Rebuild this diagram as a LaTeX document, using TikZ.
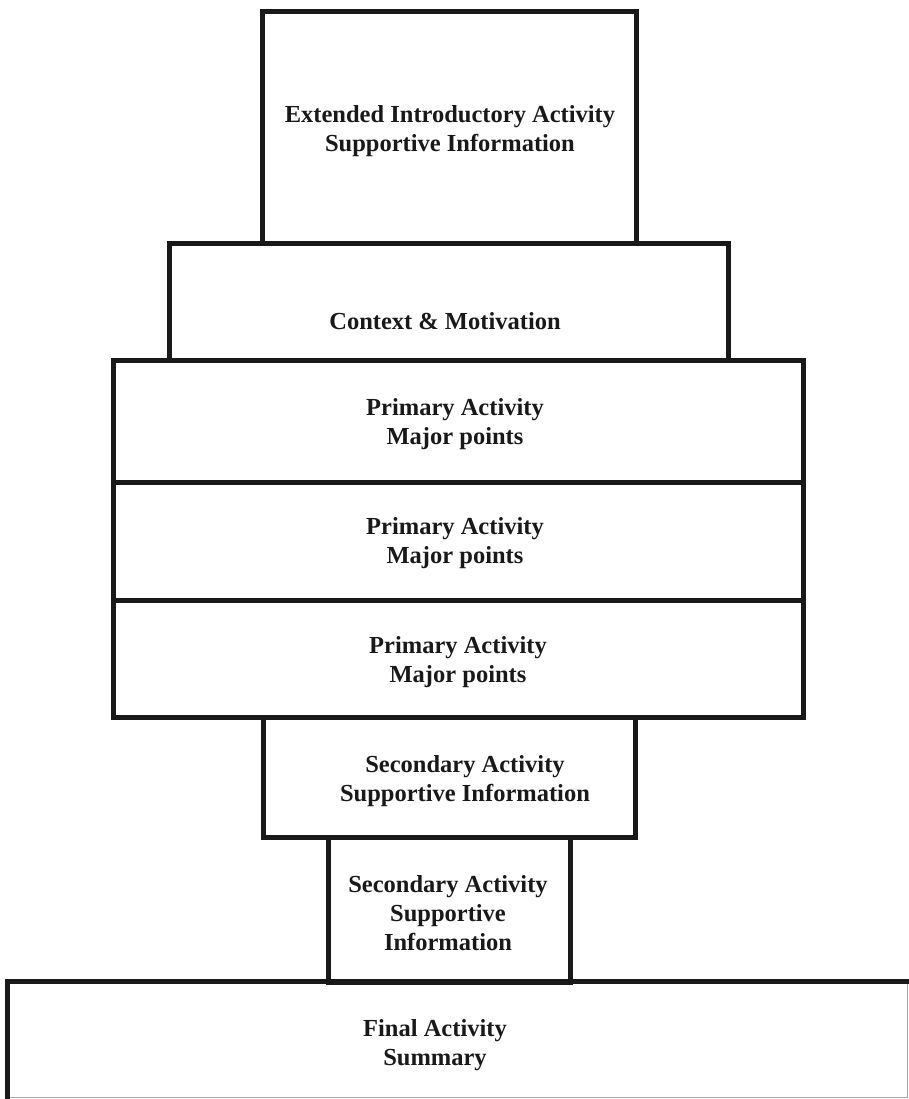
\documentclass[tikz,border=0pt]{standalone}
\usepackage{fontspec}
\setmainfont{Liberation Serif}
\begin{document}
\begin{tikzpicture}[x=1pt,y=-1pt,
  blk/.style={draw=black!90, line width=5pt, rectangle, inner sep=0pt, fill=none},
  lbl/.style={font=\fontsize{24.5}{29}\selectfont\bfseries, align=center, text=black!90}]
\useasboundingbox (0,0) rectangle (909,1099);
\node[blk, minimum width=374pt, minimum height=231pt] (b1) at (449,127.5) {};
\node[blk, minimum width=559pt, minimum height=117pt] (b2) at (448.5,301.5) {};
\node[blk, minimum width=690pt, minimum height=122pt] (b3) at (458,421) {};
\node[blk, minimum width=690pt, minimum height=118pt] (b4) at (458,541) {};
\node[blk, minimum width=690pt, minimum height=117pt] (b5) at (458,658.5) {};
\node[blk, minimum width=372pt, minimum height=120pt] (b6) at (449,777) {};
\node[blk, minimum width=242pt, minimum height=145pt] (b7) at (449,909.5) {};
\node[rectangle, inner sep=0pt, minimum width=899pt, minimum height=115pt] (b8) at (457.5,1039.5) {};
\draw[black!35, line width=1pt] (b8.north east) -- (b8.south east) -- (b8.south west);
\draw[black!90, line width=5pt, line cap=rect] (b8.south west) -- (b8.north west) -- (b8.north east);
\node[lbl] (t1) at (450,131) {Extended Introductory Activity\\Supportive Information};
\node[lbl] (t2) at (445,321) {Context \& Motivation};
\node[lbl] (t3) at (455,424) {Primary Activity\\Major points};
\node[lbl] (t4) at (455,543) {Primary Activity\\Major points};
\node[lbl] (t5) at (458,662) {Primary Activity\\Major points};
\node[lbl] (t6) at (465,781) {Secondary Activity\\Supportive Information};
\node[lbl] (t7) at (448,913) {Secondary Activity\\Supportive\\Information};
\node[lbl] (t8) at (435,1045) {Final Activity\\Summary};
\end{tikzpicture}
\end{document}
